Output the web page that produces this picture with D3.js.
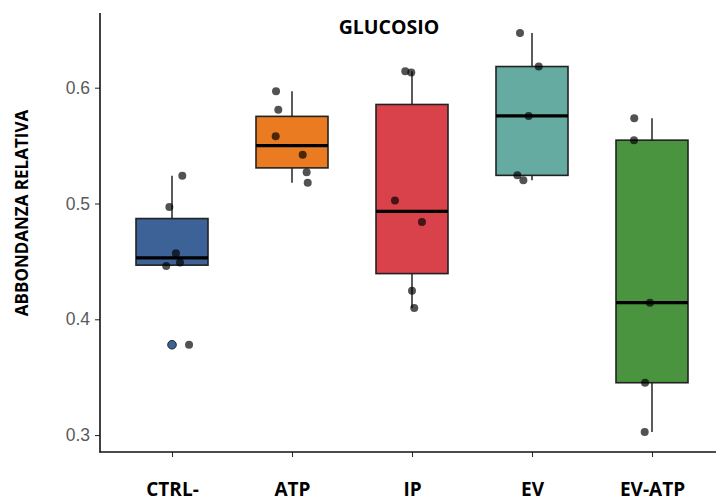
<!DOCTYPE html>
<html>
<head>
<meta charset="utf-8">
<script src="https://cdn.jsdelivr.net/npm/d3@7"></script>
<style>
  html, body { margin: 0; padding: 0; background: #fff; }
  svg { display: block; }
</style>
</head>
<body>
<svg id="chart" width="716" height="502"></svg>
<script>
// Groups and their fill colours
const categories = ["CTRL-", "ATP", "IP", "EV", "EV-ATP"];
const fills = ["#3c6297", "#ea7b20", "#d9414b", "#65aba2", "#4a933f"];

// Relative abundance measurements per group
const ctrlValues  = [0.524, 0.497, 0.457, 0.449, 0.446, 0.378];
const atpValues   = [0.597, 0.581, 0.558, 0.542, 0.527, 0.518];
const ipValues    = [0.6143, 0.6132, 0.5025, 0.484, 0.4246, 0.4097];
const evValues    = [0.6473, 0.6183, 0.5756, 0.5243, 0.520];
const evAtpValues = [0.5736, 0.5547, 0.4143, 0.3452, 0.3026];

// Horizontal jitter of each point, as a fraction of the category step
const ctrlJitter  = [0.086, -0.022, 0.033, 0.067, -0.048, 0.142];
const atpJitter   = [-0.133, -0.114, -0.136, 0.089, 0.122, 0.131];
const ipJitter    = [-0.056, -0.006, -0.142, 0.083, 0.0, 0.019];
const evJitter    = [-0.1, 0.056, -0.028, -0.122, -0.072];
const evAtpJitter = [-0.148, -0.15, -0.017, -0.058, -0.061];

const yTicks = [0.3, 0.4, 0.5, 0.6];
const title = "GLUCOSIO";
const yTitle = "ABBONDANZA RELATIVA";

const groups = categories.map((c, i) => ({
  name: c,
  fill: fills[i],
  values: [ctrlValues, atpValues, ipValues, evValues, evAtpValues][i],
  jitter: [ctrlJitter, atpJitter, ipJitter, evJitter, evAtpJitter][i]
}));

// Tukey box statistics (R type-7 quantiles)
groups.forEach(g => {
  const s = g.values.slice().sort(d3.ascending);
  g.q1 = d3.quantile(s, 0.25);
  g.med = d3.quantile(s, 0.5);
  g.q3 = d3.quantile(s, 0.75);
  const iqr = g.q3 - g.q1;
  const lo = g.q1 - 1.5 * iqr, hi = g.q3 + 1.5 * iqr;
  const inside = s.filter(v => v >= lo && v <= hi);
  g.wLo = d3.min(inside);
  g.wHi = d3.max(inside);
  g.outliers = s.filter(v => v < lo || v > hi);
});

const svg = d3.select("#chart");
const panel = { left: 100, right: 724, top: 13, bottom: 452 };

// y domain: data range expanded by 5% on each side
const all = groups.flatMap(g => g.values);
const [mn, mx] = d3.extent(all);
const pad = (mx - mn) * 0.05;
const y = d3.scaleLinear().domain([mn - pad, mx + pad]).range([panel.bottom, panel.top]);

const x = d3.scalePoint().domain(categories).range([panel.left, panel.right]).padding(0.6);
const step = x.step();
const boxW = step * 0.6;

// Axes
const yAxis = svg.append("g")
  .attr("transform", `translate(${panel.left},0)`)
  .call(d3.axisLeft(y).tickValues(yTicks).tickFormat(d3.format(".1f")).tickSize(5).tickPadding(5));
yAxis.select(".domain").remove();
yAxis.selectAll(".tick line").attr("stroke", "#333").attr("stroke-width", 1.1);
yAxis.selectAll(".tick text")
  .attr("fill", "#5a5a5a")
  .style("font-family", "'Liberation Sans', Arial, sans-serif")
  .style("font-size", "17.5px");

const xAxis = svg.append("g")
  .attr("transform", `translate(0,${panel.bottom})`)
  .call(d3.axisBottom(x).tickSize(5).tickPadding(26));
xAxis.select(".domain").remove();
xAxis.selectAll(".tick line").attr("stroke", "#333").attr("stroke-width", 1.1);
xAxis.selectAll(".tick text")
  .attr("fill", "#000")
  .style("font-family", "'Open Sans', sans-serif")
  .style("font-weight", "700")
  .style("font-size", "19px");

svg.append("line")
  .attr("x1", panel.left).attr("x2", panel.left)
  .attr("y1", panel.top).attr("y2", panel.bottom + 0.5)
  .attr("stroke", "#111").attr("stroke-width", 1.6);
svg.append("line")
  .attr("x1", panel.left - 0.5).attr("x2", panel.right)
  .attr("y1", panel.bottom).attr("y2", panel.bottom)
  .attr("stroke", "#111").attr("stroke-width", 1.6);

// Boxplots
const box = svg.append("g").selectAll("g").data(groups).join("g");
box.append("line")
  .attr("x1", d => x(d.name)).attr("x2", d => x(d.name))
  .attr("y1", d => y(d.wHi)).attr("y2", d => y(d.q3))
  .attr("stroke", "#333").attr("stroke-width", 1.6);
box.append("line")
  .attr("x1", d => x(d.name)).attr("x2", d => x(d.name))
  .attr("y1", d => y(d.q1)).attr("y2", d => y(d.wLo))
  .attr("stroke", "#333").attr("stroke-width", 1.6);
box.append("rect")
  .attr("x", d => x(d.name) - boxW / 2)
  .attr("width", boxW)
  .attr("y", d => y(d.q3))
  .attr("height", d => y(d.q1) - y(d.q3))
  .attr("fill", d => d.fill)
  .attr("stroke", "#222").attr("stroke-width", 1.6);
box.append("line")
  .attr("x1", d => x(d.name) - boxW / 2).attr("x2", d => x(d.name) + boxW / 2)
  .attr("y1", d => y(d.med)).attr("y2", d => y(d.med))
  .attr("stroke", "#000").attr("stroke-width", 3.2);
box.selectAll("circle.out")
  .data(d => d.outliers.map(v => ({ v, g: d })))
  .join("circle").attr("class", "out")
  .attr("cx", d => x(d.g.name))
  .attr("cy", d => y(d.v))
  .attr("r", 4.3)
  .attr("fill", d => d.g.fill)
  .attr("stroke", "#222").attr("stroke-width", 1);

// Jittered observations
svg.append("g").selectAll("circle")
  .data(groups.flatMap(g => g.values.map((v, i) => ({ g, v, j: g.jitter[i] }))))
  .join("circle")
  .attr("cx", d => x(d.g.name) + d.j * step)
  .attr("cy", d => y(d.v))
  .attr("r", 4)
  .attr("fill", "#000")
  .attr("fill-opacity", 0.68);

// Titles
svg.append("text")
  .attr("x", 389).attr("y", 34)
  .attr("text-anchor", "middle")
  .style("font-family", "'Open Sans', sans-serif")
  .style("font-weight", "700")
  .style("font-size", "19.5px")
  .text(title);

svg.append("text")
  .attr("transform", "translate(28,213) rotate(-90)")
  .attr("text-anchor", "middle")
  .style("font-family", "'Open Sans', sans-serif")
  .style("font-weight", "700")
  .style("font-size", "17px")
  .text(yTitle);
</script>
</body>
</html>
